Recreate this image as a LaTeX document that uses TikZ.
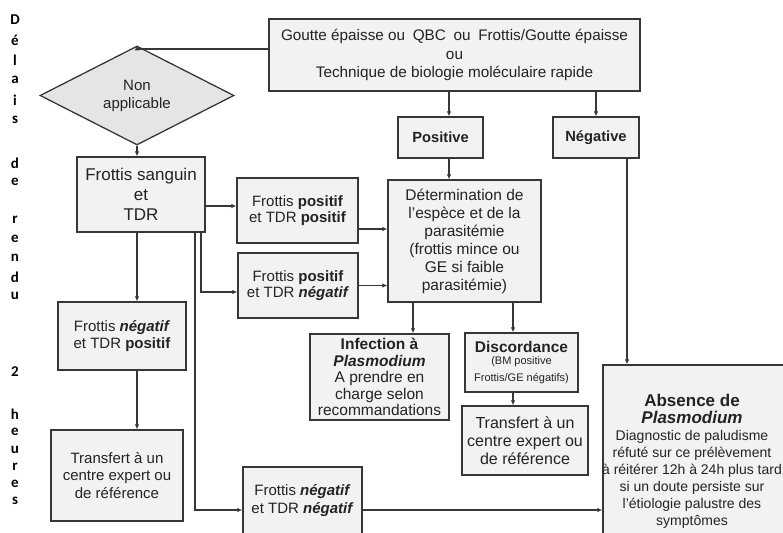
\documentclass[tikz,border=0pt]{standalone}
\usepackage{fontspec}
\setmainfont{Liberation Sans}
\newfontfamily\calibri{Carlito}
\usetikzlibrary{arrows.meta,positioning,shapes.geometric}
\definecolor{boxgray}{RGB}{242,242,242}
\definecolor{diamgray}{RGB}{229,229,229}
\definecolor{edgegray}{RGB}{55,55,55}
\definecolor{txtgray}{RGB}{35,35,35}
\newcommand\fsz[2]{\fontsize{#1}{#2}\selectfont}

\begin{document}
\begin{tikzpicture}[
    x=1pt,y=-1pt,
    box/.style={draw=edgegray,line width=1.3pt,fill=boxgray,align=center,
                inner sep=0pt,text=txtgray},
    sz/.style 2 args={minimum width=#1,minimum height=#2},
    decision/.style={diamond,draw=edgegray,line width=1.3pt,fill=diamgray,
                     inner sep=0pt,align=center,text=txtgray,
                     minimum width=194,minimum height=65},
    vlet/.style={font=\calibri\fsz{15}{17}\bfseries,text=black,inner sep=0pt},
    link/.style={-{Latex[length=5pt,width=4.5pt]},draw=edgegray,line width=1.1pt}
  ]
  \useasboundingbox (0,0) rectangle (783,532);
  \clip (0,0) rectangle (783,532);

  % left column: turnaround time
  \foreach \ch/\yy [count=\i] in {D/20,é/40,l/60,a/80,i/100,s/120,d/163,e/182,
      r/220,e/239,n/258,d/277,u/296,2/372,h/414,e/432,u/450,r/467,e/484,s/501}
    \node[vlet] (v\i) at (15,\yy) {\ch};

  % tests
  \node[box,sz={371}{72},font=\fsz{15.3}{18.5}] (test) at (454.5,55)
    {Goutte épaisse ou\enspace QBC\enspace ou\enspace Frottis/Goutte épaisse\\ou\\
     Technique de biologie moléculaire rapide};
  \node[decision,font=\fsz{15}{18}] (na) at (137,95.5) {Non\\applicable};
  \node[box,sz={85}{41},font=\fsz{14.7}{16}\bfseries] (pos) at (440.5,137.5) {Positive};
  \node[box,sz={86}{41},font=\fsz{14.7}{16}\bfseries] (neg) at (596,137.5) {Négative};

  % smear + RDT branch
  \node[box,sz={128}{75},font=\fsz{17}{20}] (fs) at (141,194.5) {Frottis sanguin\\et\\TDR};
  \node[box,sz={121}{65},font=\fsz{15}{15.5}] (fpp) at (297.5,210.5)
    {Frottis \textbf{positif}\\et TDR \textbf{positif}};
  \node[box,sz={120}{65},font=\fsz{15}{15.5}] (fpn) at (298,285.5)
    {Frottis \textbf{positif}\\et TDR \textbf{\itshape négatif}};
  \node[box,sz={128}{68},font=\fsz{15}{17}] (fnp) at (122,336)
    {Frottis \textbf{\itshape négatif}\\et TDR \textbf{positif}};
  \node[box,sz={132}{91},font=\fsz{15}{17.5}] (trl) at (117,475.5)
    {Transfert à un\\centre expert ou\\de référence};
  \node[box,sz={119}{68},font=\fsz{15}{18}] (fnn) at (302.5,501)
    {Frottis \textbf{\itshape négatif}\\et TDR \textbf{\itshape négatif}};

  % results
  \node[box,sz={153}{122},font=\fsz{15.5}{18}] (det) at (464.5,241)
    {Détermination de\\l'espèce et de la\\parasitémie\\(frottis mince ou\\GE si faible\\parasitémie)};
  \node[box,sz={139}{86},font=\fsz{15.5}{16.5}] (inf) at (379.5,377)
    {\textbf{Infection à}\\\textbf{\itshape Plasmodium}\\A prendre en\\charge selon\\recommandations};
  \node[box,sz={113}{59}] (disc) at (521.5,362.5)
    {\fsz{15.5}{17}\bfseries Discordance\\[0pt]
     \fsz{11}{16}\mdseries (BM positive\\[5pt]\fsz{11}{17}Frottis/GE négatifs)};
  \node[box,sz={126}{69},font=\fsz{16}{18}] (trm) at (525,440.5)
    {Transfert à un\\centre expert ou\\de référence};
  \node[box,sz={194}{192}] (abs) at (700,461) {};
  \node[align=center,inner sep=0pt,text=txtgray,font=\fsz{14}{17}] (abstxt) at (692,461)
    {{\fsz{17}{17}\bfseries Absence de}\\{\fsz{17}{17}\bfseries\itshape Plasmodium}\\
     Diagnostic de paludisme\\réfuté sur ce prélèvement\\à réitérer 12h à 24h plus tard\\
     si un doute persiste sur\\l'étiologie palustre des\\symptômes};

  \coordinate (lcol) at (137,0);
  \coordinate (pcol) at (449,0);
  \coordinate (acol) at (627,0);

  \draw[link] ([yshift=6]test.west) -| (na.north);
  \draw[link] (na.south) -- (na.south |- fs.north);
  \draw[link] (test.south -| pcol) -- (pos.north -| pcol);
  \draw[link] (test.south -| neg.north) -- (neg.north);
  \draw[link] (pos.south -| pcol) -- (det.north -| pcol);
  \draw[link] (neg.south -| acol) -- (abs.north -| acol);

  \draw[link] ([yshift=-11.5]fs.east) -- ([yshift=-11.5]fs.east -| fpp.west);
  \draw[link] ([xshift=60]fs.south) |- ([yshift=-6.5]fpn.west);
  \draw[link] ([xshift=54]fs.south) |- ([yshift=-9]fnn.west);
  \draw[link] (fs.south -| lcol) -- (fnp.north -| lcol);
  \draw[link] (fnp.south -| lcol) -- (trl.north -| lcol);

  \draw[link] ([yshift=-18.5]fpp.east) -- ([yshift=-18.5]fpp.east -| det.west);
  \draw[link] (fpn.east) -- (fpn.east -| det.west);
  \draw[link] ([xshift=-51.5]det.south) -- ([xshift=-51.5]det.south |- inf.north);
  \draw[link] ([xshift=48.5]det.south) -- ([xshift=48.5]det.south |- disc.north);
  \draw[link] ([xshift=-8.5]disc.south) -- ([xshift=-8.5]disc.south |- trm.north);
  \draw[link] ([yshift=-9]fnn.east) -- ([yshift=-9]fnn.east -| abs.west);
\end{tikzpicture}
\end{document}
